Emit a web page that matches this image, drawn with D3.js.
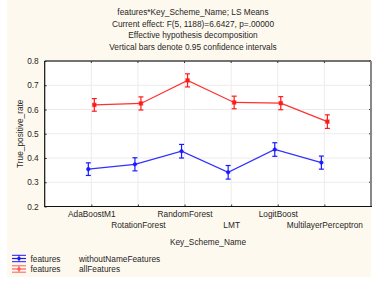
<!DOCTYPE html>
<html><head><meta charset="utf-8">
<script src="https://cdn.jsdelivr.net/npm/d3@7"></script>
<style>body{margin:0;background:#fff}svg{display:block}text{font-family:"Liberation Sans",Arial,sans-serif;fill:#262626}</style>
</head><body><svg id="c" width="374" height="281"></svg>
<script>
const categories = ["AdaBoostM1","RotationForest","RandomForest","LMT","LogitBoost","MultilayerPerceptron"];
const withoutMeans = [0.354,0.374,0.428,0.341,0.435,0.381];
const withoutCI = [0.026,0.027,0.028,0.028,0.028,0.027];
const allMeans = [0.619,0.625,0.720,0.629,0.626,0.550];
const allCI = [0.026,0.027,0.027,0.026,0.027,0.028];
const yTicks = [0.2,0.3,0.4,0.5,0.6,0.7,0.8];
const titleLines = ["features*Key_Scheme_Name; LS Means","Current effect: F(5, 1188)=6.6427, p=.00000","Effective hypothesis decomposition","Vertical bars denote 0.95 confidence intervals"];
const seriesNames = ["withoutNameFeatures","allFeatures"];

const FS = 8.3;
const svg = d3.select("#c");
svg.append("rect").attr("x",7).attr("y",0).attr("width",364).attr("height",277).attr("fill","#fef9ee");

const L=44.7,R=371,T=61,B=206.5;
const x = d3.scaleLinear().domain([0,categories.length+1]).range([L,R]);
const y = d3.scaleLinear().domain([0.2,0.8]).range([B,T]);

svg.append("rect").attr("x",L).attr("y",T).attr("width",R-L).attr("height",B-T).attr("fill","#fff");
// grid
const g = svg.append("g");
g.selectAll(".gy").data(yTicks.slice(1,-1)).join("line").attr("x1",L).attr("x2",R)
 .attr("y1",d=>y(d)).attr("y2",d=>y(d)).attr("stroke","#ececec").attr("stroke-width",1);
g.selectAll(".gx").data(categories).join("line").attr("y1",T).attr("y2",B)
 .attr("x1",(d,i)=>x(i+1)).attr("x2",(d,i)=>x(i+1)).attr("stroke","#ececec").attr("stroke-width",1);

// axes
const yAxis = d3.axisLeft(y).tickValues(yTicks).tickFormat(d3.format(".1f")).tickSizeInner(-2).tickSizeOuter(0).tickPadding(6);
const ya = svg.append("g").attr("transform",`translate(${L},0)`).call(yAxis);
ya.select(".domain").remove();
ya.selectAll("text").attr("font-size",FS).style("font-family","Liberation Sans, Arial").attr("fill","#262626");
ya.selectAll("line").attr("stroke","#333");
const xAxis = d3.axisBottom(x).tickValues(categories.map((d,i)=>i+1)).tickFormat((d)=>categories[d-1]).tickSizeInner(-2).tickSizeOuter(0).tickPadding(5);
const xa = svg.append("g").attr("transform",`translate(0,${B})`).call(xAxis);
xa.select(".domain").remove();
xa.selectAll("line").attr("stroke","#333");
xa.selectAll("text").attr("font-size",FS).style("font-family","Liberation Sans, Arial").attr("fill","#262626")
  .attr("dy",(d,i)=> i%2===0 ? "0.71em" : "2.0em");
// top/right ticks
svg.selectAll(".tt").data(categories).join("line").attr("x1",(d,i)=>x(i+1)).attr("x2",(d,i)=>x(i+1)).attr("y1",T).attr("y2",T+2).attr("stroke","#333");
svg.selectAll(".rt").data(yTicks).join("line").attr("x1",R-2).attr("x2",R).attr("y1",d=>y(d)).attr("y2",d=>y(d)).attr("stroke","#333");
// frame
svg.append("line").attr("x1",L).attr("x2",R).attr("y1",T).attr("y2",T).attr("stroke","#444").attr("stroke-width",1.3);
svg.append("line").attr("x1",R).attr("x2",R).attr("y1",T).attr("y2",B).attr("stroke","#888").attr("stroke-width",2);
svg.append("line").attr("x1",L).attr("x2",L).attr("y1",T).attr("y2",B+0.5).attr("stroke","#111").attr("stroke-width",1.2);
svg.append("line").attr("x1",L).attr("x2",R+1).attr("y1",B).attr("y2",B).attr("stroke","#111").attr("stroke-width",1.2);

// titles
svg.selectAll(".title").data(titleLines).join("text").attr("x",193).attr("y",(d,i)=>15+i*11.7)
 .attr("text-anchor","middle").attr("font-size",FS).text(d=>d);
svg.append("text").attr("transform",`translate(23,${(T+B)/2}) rotate(-90)`).attr("text-anchor","middle").attr("font-size",FS).text("True_positive_rate");
svg.append("text").attr("x",208).attr("y",245).attr("text-anchor","middle").attr("font-size",FS).text("Key_Scheme_Name");

// series
const series = [
 {means:withoutMeans, ci:withoutCI, color:"#1a1aff", off:-3, shape:"circle"},
 {means:allMeans, ci:allCI, color:"#ff1a1a", off:3, shape:"square"}
];
series.forEach(s=>{
  const gg = svg.append("g");
  const pts = s.means.map((m,i)=>[x(i+1)+s.off, y(m)]);
  gg.append("path").attr("d",d3.line()(pts)).attr("fill","none").attr("stroke",s.color).attr("stroke-width",1.2).attr("opacity",0.9);
  s.means.forEach((m,i)=>{
    const cx = x(i+1)+s.off;
    const y1 = y(m - s.ci[i]), y2 = y(m + s.ci[i]);
    gg.append("line").attr("x1",cx).attr("x2",cx).attr("y1",y1).attr("y2",y2).attr("stroke",s.color).attr("stroke-width",1.2);
    [y1,y2].forEach(yy=>gg.append("line").attr("x1",cx-2.5).attr("x2",cx+2.5).attr("y1",yy).attr("y2",yy).attr("stroke",s.color).attr("stroke-width",1.2));
    if(s.shape==="circle"){
      gg.append("circle").attr("cx",cx).attr("cy",y(m)).attr("r",1.8).attr("fill",s.color).attr("stroke",s.color).attr("stroke-opacity",0.5).attr("stroke-width",1);
    } else {
      gg.append("rect").attr("x",cx-1.8).attr("y",y(m)-1.8).attr("width",3.6).attr("height",3.6).attr("fill",s.color).attr("stroke",s.color).attr("stroke-opacity",0.5).attr("stroke-width",1);
    }
  });
});

// legend
const leg = svg.append("g");
series.forEach((s,i)=>{
  const ly = 258.5 + i*10.5;
  const col = i===0 ? s.color : "#ff5a5a";
  leg.append("line").attr("x1",12).attr("x2",26).attr("y1",ly).attr("y2",ly).attr("stroke",col).attr("stroke-width",1.2);
  leg.append("line").attr("x1",12).attr("x2",26).attr("y1",ly-3.2).attr("y2",ly-3.2).attr("stroke",col).attr("stroke-width",1);
  leg.append("line").attr("x1",12).attr("x2",26).attr("y1",ly+3.2).attr("y2",ly+3.2).attr("stroke",col).attr("stroke-width",1);
  leg.append("line").attr("x1",19).attr("x2",19).attr("y1",ly-3.2).attr("y2",ly+3.2).attr("stroke",col).attr("stroke-width",1);
  leg.append("circle").attr("cx",19).attr("cy",ly).attr("r",1.8).attr("fill",col);
  leg.append("text").attr("x",30.5).attr("y",ly+3).attr("font-size",FS).text("features");
  leg.append("text").attr("x",79).attr("y",ly+3).attr("font-size",FS).text(seriesNames[i]);
});
</script></body></html>
